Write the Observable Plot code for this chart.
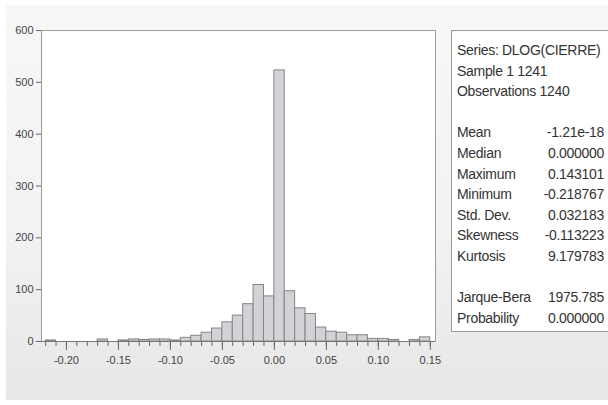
<!DOCTYPE html>
<html><head><meta charset="utf-8">
<script src="https://cdn.jsdelivr.net/npm/d3@7"></script>
<script src="https://cdn.jsdelivr.net/npm/@observablehq/plot@0.6"></script>
<style>
html,body{margin:0;padding:0;background:#fff;}
#wrap{position:relative;width:608px;height:405px;overflow:hidden;}
#bg{position:absolute;left:6px;top:5px;width:602px;height:395px;background:linear-gradient(#f7f7f7 0%, #f3f3f3 55%, #e7e7e7 100%);}
#chart{position:absolute;left:0;top:0;}
#stats{position:absolute;left:451px;top:30px;width:170px;height:302px;background:#fff;border:1px solid #9a9a9a;box-sizing:border-box;font-family:"Liberation Sans",Arial,sans-serif;font-size:14px;color:#333;letter-spacing:-0.3px;}
.row{position:absolute;left:5px;width:147px;height:20px;line-height:20px;white-space:nowrap;}
.row .v{position:absolute;right:0;top:0;}
</style></head>
<body>
<div id="wrap"><div id="bg"></div><div id="chart"></div><div id="stats"></div></div>
<script>
// Histogram bins (lower edges, width 0.01) and counts
const binLo = [-0.22,-0.21,-0.20,-0.19,-0.18,-0.17,-0.16,-0.15,-0.14,-0.13,-0.12,-0.11,-0.10,
  -0.09,-0.08,-0.07,-0.06,-0.05,-0.04,-0.03,-0.02,-0.01,0.00,0.01,0.02,0.03,0.04,0.05,0.06,
  0.07,0.08,0.09,0.10,0.11,0.12,0.13,0.14];
const binWidth = 0.01;
const counts = [2,0,0,0,0,4,0,2,4,3,4,4,2,
  7,11,17,25,37,50,72,109,87,523,97,64,53,27,19,17,
  12,12,5,5,3,0,3,8];
const xTicks = [-0.20,-0.15,-0.10,-0.05,0.00,0.05,0.10,0.15];
const yTicks = [0,100,200,300,400,500,600];
const headerLines = ["Series: DLOG(CIERRE)","Sample 1 1241","Observations 1240"];
const statLabels = ["Mean","Median","Maximum","Minimum","Std. Dev.","Skewness","Kurtosis"];
const statValues = ["-1.21e-18","0.000000","0.143101","-0.218767","0.032183","-0.113223","9.179783"];
const testLabels = ["Jarque-Bera","Probability"];
const testValues = ["1975.785","0.000000"];

const bins = binLo.map((lo, i) => ({lo, hi: lo + binWidth, count: counts[i]}));
const binEdges = [...binLo, binLo[binLo.length - 1] + binWidth];

const chart = Plot.plot({
  width: 608, height: 405,
  marginLeft: 41, marginRight: 173, marginTop: 30, marginBottom: 64,
  style: {background: "transparent", fontFamily: "'Liberation Sans', Arial, sans-serif", fontSize: "11px", color: "#444"},
  x: {domain: [-0.224, 0.155], label: null},
  y: {domain: [0, 600], label: null},
  marks: [
    Plot.frame({fill: "white", stroke: "#9c9c9c"}),
    Plot.rectY(bins, {x1: "lo", x2: "hi", y: "count", fill: "#d3d3d7", stroke: "#858585", strokeWidth: 1}),
    Plot.axisX(binEdges, {tickSize: 5, tickFormat: () => "", stroke: "#666"}),
    Plot.axisX(xTicks, {tickSize: 9, tickPadding: 6, tickFormat: d => d.toFixed(2), stroke: "#666"}),
    Plot.axisY(yTicks, {tickSize: 5, tickPadding: 3, stroke: "#666"}),
    Plot.ruleY([0], {stroke: "#777"})
  ]
});
document.getElementById("chart").appendChild(chart);

const stats = document.getElementById("stats");
const lineH = 20.6, firstCenter = 50 - 31;
function addRow(idx, label, value) {
  const r = document.createElement("div");
  r.className = "row";
  r.style.top = (firstCenter + idx * lineH - 10) + "px";
  r.textContent = label;
  if (value !== undefined) {
    const v = document.createElement("span");
    v.className = "v"; v.textContent = value; r.appendChild(v);
  }
  stats.appendChild(r);
}
headerLines.forEach((t, i) => addRow(i, t));
statLabels.forEach((t, i) => addRow(4 + i, t, statValues[i]));
testLabels.forEach((t, i) => addRow(12 + i, t, testValues[i]));
</script>
</body></html>
